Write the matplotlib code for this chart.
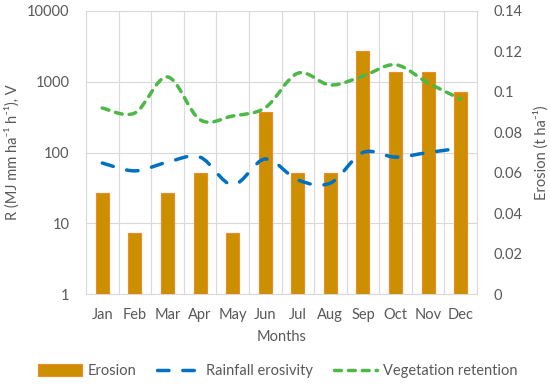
import numpy as np
import matplotlib
matplotlib.use("Agg")
import matplotlib.pyplot as plt
from matplotlib.path import Path
from matplotlib.patches import PathPatch, Patch
from matplotlib.lines import Line2D
from matplotlib.ticker import FixedLocator, NullLocator

plt.rcParams['font.family'] = ['Lato', 'DejaVu Sans']

months = ["Jan", "Feb", "Mar", "Apr", "May", "Jun",
          "Jul", "Aug", "Sep", "Oct", "Nov", "Dec"]
erosion = [0.05, 0.03, 0.05, 0.06, 0.03, 0.09, 0.06, 0.06, 0.12, 0.11, 0.11, 0.10]
rainfall = [71, 55, 73, 86, 35, 81, 41, 37, 100, 86, 100, 115]
vegetation = [425, 362, 1170, 290, 328, 430, 1320, 900, 1200, 1740, 960, 570]

txt = '#595959'
grid_c = '#D9D9D9'
bar_face = '#CC8F00'
bar_edge = '#F5882A'
blue = '#0070C0'
green = '#4DB848'
blue_dash = (0, (3.3, 4.0))
green_dash = (0, (2.0, 2.0))
lw = 2.5


def smooth_path(x, y):
    # Excel-style smoothed line: cubic bezier segments in log space
    ly = np.log10(y)
    n = len(x)
    verts = [(x[0], y[0])]
    codes = [Path.MOVETO]
    for i in range(n - 1):
        x0, l0 = (x[i - 1], ly[i - 1]) if i > 0 else (x[i], ly[i])
        x3, l3 = (x[i + 2], ly[i + 2]) if i + 2 < n else (x[i + 1], ly[i + 1])
        c1x = x[i] + (x[i + 1] - x0) / 6
        c1y = ly[i] + (ly[i + 1] - l0) / 6
        c2x = x[i + 1] - (x3 - x[i]) / 6
        c2y = ly[i + 1] - (l3 - ly[i]) / 6
        verts += [(c1x, 10 ** c1y), (c2x, 10 ** c2y), (x[i + 1], y[i + 1])]
        codes += [Path.CURVE4] * 3
    return Path(verts, codes)


fig = plt.figure(figsize=(5.5, 3.85), dpi=100)
pos = [86 / 550, 91 / 385, 391 / 550, 283 / 385]
ax = fig.add_axes(pos)
x = np.arange(len(months))

# left log axis with the grid
ax.set_yscale('log')
ax.set_ylim(1, 10000)
ax.set_xlim(-0.5, 11.5)
ax.yaxis.set_major_locator(FixedLocator([1, 10, 100, 1000, 10000]))
ax.yaxis.set_minor_locator(NullLocator())
ax.set_yticklabels(["1", "10", "100", "1000", "10000"])
ax.set_xticks(x)
ax.set_xticklabels(months)
ax.set_xticks(np.arange(0.5, 11, 1), minor=True)
ax.grid(True, axis='y', which='major', color=grid_c, lw=0.8)
ax.grid(True, axis='x', which='minor', color=grid_c, lw=0.8)
ax.tick_params(axis='both', which='both', length=0, colors=txt, labelsize=10.5)
ax.tick_params(axis='y', pad=12)
ax.tick_params(axis='x', pad=10)
for s in ax.spines.values():
    s.set_color(grid_c)
    s.set_linewidth(0.8)
ax.set_xlabel("Months", color=txt, fontsize=10.5, labelpad=6)
ax.set_ylabel("R (MJ mm ha⁻¹ h⁻¹), V", color=txt, fontsize=10.5, labelpad=5)

# right linear axis with bars
ax2 = ax.twinx()
ax2.bar(x, erosion, width=0.4, color=bar_face, edgecolor=bar_edge, linewidth=0.8)
ax2.set_ylim(0, 0.14)
ax2.set_yticks(np.arange(0, 0.141, 0.02))
ax2.set_yticklabels(["0", "0.02", "0.04", "0.06", "0.08", "0.1", "0.12", "0.14"])
ax2.tick_params(axis='y', length=0, colors=txt, labelsize=10.5, pad=12)
for s in ax2.spines.values():
    s.set_visible(False)
ax2.set_ylabel("Erosion (t ha⁻¹)", color=txt, fontsize=10.5, labelpad=8)

# top layer for the smoothed lines
ax3 = fig.add_axes(pos, sharex=ax, sharey=ax)
ax3.axis('off')
ax3.add_patch(PathPatch(smooth_path(x, rainfall), fill=False, edgecolor=blue,
                        lw=lw, linestyle=blue_dash, capstyle='round'))
ax3.add_patch(PathPatch(smooth_path(x, vegetation), fill=False, edgecolor=green,
                        lw=lw, linestyle=green_dash, capstyle='round'))

handles = [
    Patch(facecolor=bar_face, edgecolor=bar_edge, lw=0.8),
    Line2D([], [], color=blue, lw=lw, linestyle=blue_dash, dash_capstyle='round'),
    Line2D([], [], color=green, lw=lw, linestyle=green_dash, dash_capstyle='round'),
]
fig.legend(handles, ["Erosion", "Rainfall erosivity", "Vegetation retention"],
           loc='center', bbox_to_anchor=(0.505, 0.036), ncol=3, frameon=False,
           handlelength=3.0, handleheight=0.9, handletextpad=0.4, columnspacing=1.4,
           fontsize=10.5, labelcolor=txt)

fig.savefig("out.png", dpi=100)
